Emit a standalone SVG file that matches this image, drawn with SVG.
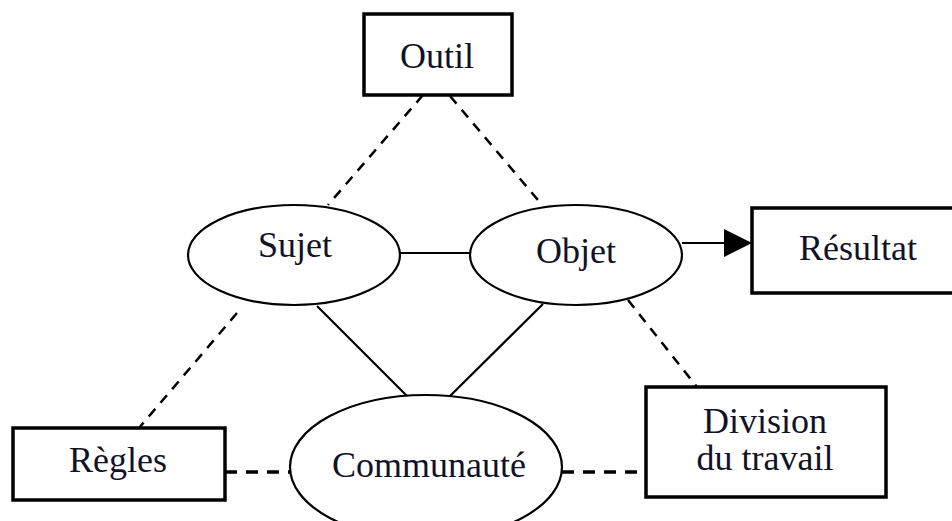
<svg xmlns="http://www.w3.org/2000/svg" width="952" height="521" viewBox="0 0 952 521">
<style>
.box{fill:#fff;stroke:#000;stroke-width:3.5}
.ell{fill:#fff;stroke:#000;stroke-width:2.2}
.t{font-family:"Liberation Serif","Times New Roman",serif;font-size:36px;fill:#111128;text-anchor:middle}
.solid{stroke:#000;stroke-width:2.2;fill:none}
.dash{stroke:#000;stroke-width:2.5;stroke-dasharray:10 8;fill:none}
.dashb{stroke:#000;stroke-width:3.5;stroke-dasharray:12 9;fill:none}
</style>
<defs>
<marker id="arr" markerWidth="28" markerHeight="28" refX="28" refY="14" orient="auto" markerUnits="userSpaceOnUse">
<path d="M0,0 L28,14 L0,28 Z" fill="#000"/>
</marker>
</defs>
<rect width="952" height="521" fill="#fff"/>
<g id="connectors">
<line class="dash" x1="423" y1="95" x2="328" y2="205"/>
<line class="dash" x1="450" y1="96" x2="538" y2="200"/>
<line class="dash" x1="237" y1="313" x2="139" y2="428"/>
<line class="dash" x1="628" y1="300" x2="697" y2="387"/>
<line class="dashb" x1="225" y1="472" x2="291" y2="472" stroke-dasharray="12 8"/>
<line class="dashb" x1="562" y1="472" x2="645" y2="472" stroke-dasharray="12 8"/>
<line class="solid" x1="400" y1="253" x2="470" y2="253" stroke-width="3"/>
<line class="solid" x1="317" y1="306" x2="408" y2="397"/>
<line class="solid" x1="543" y1="304" x2="449" y2="397"/>
<line class="solid" x1="682" y1="243" x2="752" y2="243" stroke-width="3" marker-end="url(#arr)"/>
</g>
<g id="outil">
<rect class="box" x="364" y="14" width="148" height="81"/>
<text class="t" x="437" y="68">Outil</text>
</g>
<g id="sujet">
<ellipse class="ell" cx="294" cy="255" rx="106" ry="50"/>
<text class="t" x="295" y="257">Sujet</text>
</g>
<g id="objet">
<ellipse class="ell" cx="576" cy="255" rx="106" ry="50"/>
<text class="t" x="576" y="263">Objet</text>
</g>
<g id="resultat">
<rect class="box" x="752" y="208" width="215" height="85"/>
<text class="t" x="858" y="260">Résultat</text>
</g>
<g id="regles">
<rect class="box" x="13" y="428" width="212" height="72"/>
<text class="t" x="118" y="472">Règles</text>
</g>
<g id="communaute">
<ellipse class="ell" cx="426" cy="467" rx="136" ry="72"/>
<text class="t" x="429" y="477">Communauté</text>
</g>
<g id="division">
<rect class="box" x="646" y="387" width="240" height="110"/>
<text class="t" x="765" y="433">Division</text>
<text class="t" x="765" y="470">du travail</text>
</g>
</svg>
